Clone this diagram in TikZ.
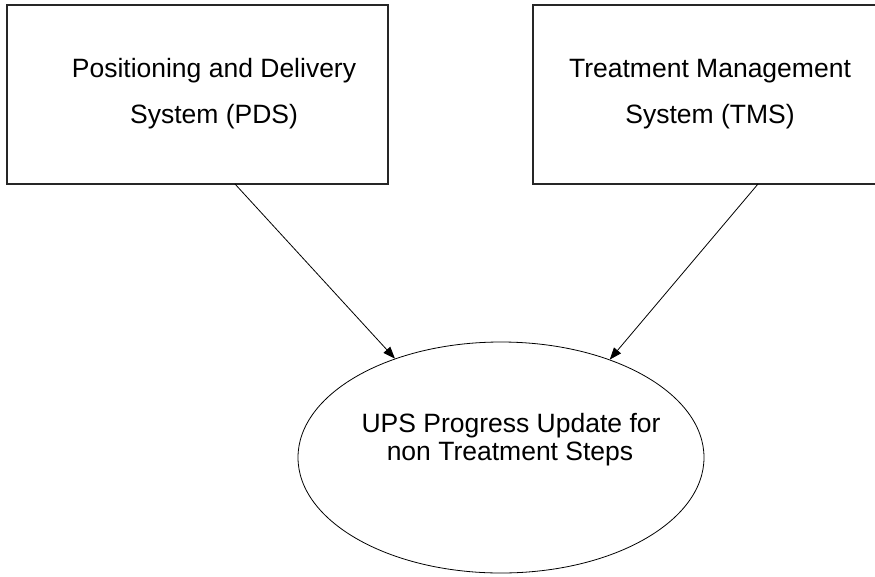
\documentclass[tikz,border=0pt]{standalone}
\usepackage{fontspec}
\setmainfont{Liberation Sans}
\usetikzlibrary{arrows.meta,shapes.geometric}
\begin{document}
\begin{tikzpicture}[x=1pt,y=-1pt,
  boxstyle/.style={draw=black!85,line width=1.2pt,rectangle,minimum width=#1,minimum height=179pt,inner sep=0pt},
  ovalstyle/.style={draw=black,line width=0.8pt,ellipse,minimum width=406pt,minimum height=231pt,inner sep=0pt},
  txt/.style={anchor=base,font=\fontsize{26.5}{30}\selectfont,inner sep=0pt},
  arr/.style={draw=black,line width=0.8pt,-{Triangle[length=12pt,width=9pt]}}]
\useasboundingbox (0,0) rectangle (875,576);
\node[boxstyle=381pt] (L) at (197.5,94.5) {};
\node[boxstyle=344pt] (R) at (705,94.5) {};
\node[ovalstyle] (E) at (501,457.5) {};
\node[txt] (l1) at (214,77) {Positioning and Delivery};
\node[txt] (l2) at (214,123) {System (PDS)};
\node[txt] (r1) at (710,77) {Treatment Management};
\node[txt] (r2) at (710,123) {System (TMS)};
\node[txt] (e1) at (511,432) {UPS Progress Update for};
\node[txt] (e2) at (510,460) {non Treatment Steps};
\coordinate (ls) at (235,184);
\coordinate (rs) at (758,184);
\draw[arr] (ls) -- (E.137.4);
\draw[arr] (rs) -- (E.42.6);
\end{tikzpicture}
\end{document}
